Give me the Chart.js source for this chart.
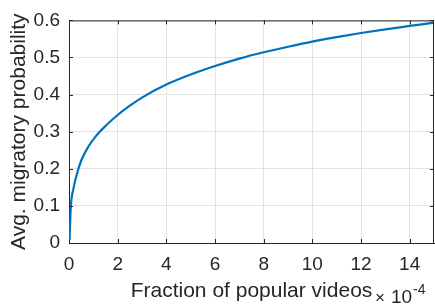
<!DOCTYPE html>
<html>
<head>
<meta charset="utf-8">
<script src="https://cdn.jsdelivr.net/npm/chart.js@4/dist/chart.umd.min.js"></script>
<style>
  html, body { margin: 0; padding: 0; background: #fff; }
  #wrap { width: 435px; height: 308px; }
</style>
</head>
<body>
<div id="wrap"><canvas id="migChart"></canvas></div>
<script>
// 讀圖得到的數據 (x 單位: 1e-4)
const fractionX = [0.02, 0.05, 0.075, 0.18, 0.32, 0.52, 0.8, 1.13, 1.54, 2.0, 2.5, 3.0, 4.0, 5.0, 6.0, 7.0, 8.0, 9.0, 10.0, 11.0, 12.0, 13.0, 14.0, 15.0];
const migProb   = [0.008, 0.059, 0.098, 0.146, 0.185, 0.225, 0.26, 0.29, 0.318, 0.345, 0.37, 0.392, 0.427, 0.454, 0.477, 0.497, 0.514, 0.529, 0.543, 0.555, 0.566, 0.576, 0.585, 0.594];
const xTicks = [0, 2, 4, 6, 8, 10, 12, 14];
const yTicks = [0, 0.1, 0.2, 0.3, 0.4, 0.5, 0.6];
const xTitle = 'Fraction of popular videos';
const yTitle = 'Avg. migratory probability';

const axisColor = '#262626';
const gridColor = '#e3e3e3';
const fontFamily = '"Liberation Sans", Arial, Helvetica, sans-serif';

// 畫外框、內向刻度和 ×10^-4
const boxPlugin = {
    id: 'matlabBox',
    afterDraw(chart) {
        const { ctx, chartArea: a, scales } = chart;
        ctx.save();
        ctx.strokeStyle = axisColor;
        ctx.lineWidth = 1;
        ctx.beginPath();
        ctx.moveTo(a.left, a.top + 0.5);
        ctx.lineTo(a.right, a.top + 0.5);
        ctx.moveTo(a.right - 0.5, a.top);
        ctx.lineTo(a.right - 0.5, a.bottom);
        const tl = 4;
        xTicks.forEach(v => {
            const px = Math.round(scales.x.getPixelForValue(v)) + 0.5;
            ctx.moveTo(px, a.bottom); ctx.lineTo(px, a.bottom - tl);
            ctx.moveTo(px, a.top); ctx.lineTo(px, a.top + tl);
        });
        yTicks.forEach(v => {
            const py = Math.round(scales.y.getPixelForValue(v)) + 0.5;
            ctx.moveTo(a.left, py); ctx.lineTo(a.left + tl, py);
            ctx.moveTo(a.right, py); ctx.lineTo(a.right - tl, py);
        });
        ctx.stroke();

        // 指數標記
        ctx.fillStyle = axisColor;
        ctx.textBaseline = 'alphabetic';
        ctx.textAlign = 'left';
        ctx.font = '17px ' + fontFamily;
        ctx.fillText('\u00d7', 375, 303);
        ctx.font = '19px ' + fontFamily;
        ctx.fillText('10', 391, 303);
        ctx.font = '14px ' + fontFamily;
        ctx.fillText('-4', 413, 294);
        ctx.restore();
    }
};

const ctx = document.getElementById('migChart').getContext('2d');
const migChart = new Chart(ctx, {
    type: 'line',
    data: {
        datasets: [{
            data: fractionX.map((x, i) => ({ x: x, y: migProb[i] })),
            borderColor: '#0072BD',
            borderWidth: 2.2,
            pointRadius: 0,
            cubicInterpolationMode: 'monotone',
            fill: false
        }]
    },
    options: {
        responsive: true,
        maintainAspectRatio: false,
        animation: false,
        events: [],
        layout: { padding: { top: 12, right: 1, left: 0, bottom: 0 } },
        plugins: { legend: { display: false }, tooltip: { enabled: false } },
        scales: {
            x: {
                type: 'linear',
                min: 0,
                max: 15,
                afterBuildTicks: s => { s.ticks = xTicks.map(v => ({ value: v })); },
                afterFit: s => { s.height = 65; },
                grid: { color: gridColor, drawTicks: false, tickLength: 0 },
                border: { display: true, color: axisColor, width: 1 },
                ticks: { color: axisColor, padding: 10, maxRotation: 0, font: { family: fontFamily, size: 19 } },
                title: { display: true, text: xTitle, color: axisColor, padding: { top: 0, bottom: 4 }, font: { family: fontFamily, size: 21 } }
            },
            y: {
                min: 0,
                max: 0.6,
                afterBuildTicks: s => { s.ticks = yTicks.map(v => ({ value: v })); },
                afterFit: s => { s.width = 69; },
                grid: { color: gridColor, drawTicks: false, tickLength: 0 },
                border: { display: true, color: axisColor, width: 1 },
                ticks: { color: axisColor, padding: 9, font: { family: fontFamily, size: 19 }, callback: v => String(v) },
                title: { display: true, text: yTitle, color: axisColor, padding: { top: 7, bottom: 0 }, font: { family: fontFamily, size: 21 } }
            }
        }
    },
    plugins: [boxPlugin]
});
</script>
</body>
</html>
